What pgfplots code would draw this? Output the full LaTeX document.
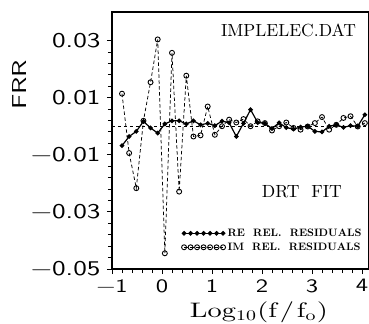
\documentclass[border=0pt]{standalone}
\usepackage{graphicx}
\usepackage{pgfplots}
\pgfplotsset{compat=1.18}
\usepackage{pgfplotstable}
\usepackage{fontspec}
\newfontfamily\tickfont{lmsans10-regular.otf}
\newfontfamily\txtfont{lmroman10-regular.otf}
\newfontfamily\legfont{lmroman10-bold.otf}
\newcommand\sx[1]{\scalebox{1.3}[1]{#1}}

\pgfplotsset{myleg/.style={legend image code/.code={\draw[##1] plot coordinates {(0bp,0bp) (6.5bp,0bp) (13bp,0bp) (19.5bp,0bp) (26bp,0bp) (32.5bp,0bp) (39bp,0bp)};}}}

\pgfplotstableread{
x re im
-0.800 -0.0068 0.0114
-0.657 -0.0036 -0.0094
-0.514 -0.0018 -0.0217
-0.371 0.0017 0.0019
-0.229 -0.0006 0.0154
-0.086 -0.0024 0.0304
0.057 0.0008 -0.0445
0.200 0.0019 0.0257
0.343 0.0019 -0.0229
0.486 0.0008 0.0177
0.629 0.0019 -0.0036
0.771 0.0005 -0.0032
0.914 0.0010 0.0069
1.057 0.0002 -0.0030
1.200 0.0018 0.0000
1.343 0.0012 0.0023
1.486 -0.0036 0.0013
1.629 0.0010 0.0025
1.771 0.0058 0.0000
1.914 0.0013 0.0017
2.057 0.0010 0.0011
2.200 -0.0008 -0.0015
2.343 0.0012 0.0000
2.486 -0.0005 0.0013
2.629 -0.0010 -0.0006
2.771 -0.0003 -0.0012
2.914 0.0000 -0.0001
3.057 -0.0018 0.0011
3.200 -0.0020 0.0032
3.343 0.0000 -0.0012
3.486 0.0005 0.0005
3.629 -0.0004 0.0029
3.771 0.0002 0.0035
3.914 0.0000 -0.0001
4.057 0.0040 0.0011
}\resid

\begin{document}
\begin{tikzpicture}
\path[use as bounding box] (-112bp,-55bp) rectangle (257bp,269bp);
\begin{axis}[
  at={(0,0)}, anchor=south west,
  scale only axis, width=257bp, height=257bp,
  xmin=-1, xmax=4.14, ymin=-0.05, ymax=0.04,
  axis line style={line width=1.1pt},
  tick style={line width=0.9pt, black},
  tick align=outside,
  major tick length=5bp, minor tick length=4bp,
  xtick pos=bottom, ytick pos=left,
  xtick={-1,0,1,2,3,4},
  xticklabels={\sx{\textminus1},\sx{0},\sx{1},\sx{2},\sx{3},\sx{4}},
  ytick={-0.05,-0.03,-0.01,0.01,0.03},
  yticklabels={\sx{\textminus0.05},\sx{\textminus0.03},\sx{\textminus0.01},\sx{0.01},\sx{0.03}},
  scaled y ticks=false,
  minor x tick num=4, minor y tick num=4,
  xticklabel style={font=\tickfont\fontsize{19}{19}\selectfont, yshift=-2bp},
  yticklabel style={font=\tickfont\fontsize{21}{21}\selectfont, xshift=-3bp},
  ylabel={\resizebox{50bp}{14bp}{\tickfont FRR}},
  ylabel style={at={(axis description cs:-0.358,0.716)}, anchor=center},
  xlabel={\resizebox*{138bp}{21bp}{\txtfont Log\textsubscript{10}(f\kern1pt/\kern1pt f\textsubscript{o})}},
  xlabel style={at={(axis description cs:0.572,-0.168)}, anchor=center},
  legend style={draw=none, fill=none, at={(rel axis cs:0.27,0.165)}, anchor=north west,
    font=\legfont\fontsize{10.8}{12}\selectfont, row sep=1pt, inner sep=0pt},
  legend cell align=left,
  reverse legend,
  clip=false,
]
\addplot[black, line width=0.7pt, dash pattern=on 3pt off 3pt, forget plot] coordinates {(-1,0) (4.14,0)};
\addplot[black, line width=0.75pt, dash pattern=on 3.5pt off 2.5pt,
  mark=o, mark size=2.5pt, mark options={solid, fill=white, line width=0.9pt}, myleg]
  table[x=x, y=im] {\resid};
\addlegendentry{IM\ \ REL.\ \ RESIDUALS}
\addplot[black, line width=1.2pt, mark=*, mark size=1.7pt, myleg]
  table[x=x, y=re] {\resid};
\addlegendentry{RE\ \ REL.\ \ RESIDUALS}
\node[anchor=center, inner sep=0pt] at (rel axis cs:0.687,0.927) {\resizebox{135bp}{!}{\txtfont IMPLELEC.DAT}};
\node[anchor=center, inner sep=0pt] at (rel axis cs:0.739,0.3) {\resizebox{80bp}{!}{\txtfont DRT\ \ FIT}};
\end{axis}
\end{tikzpicture}
\end{document}
